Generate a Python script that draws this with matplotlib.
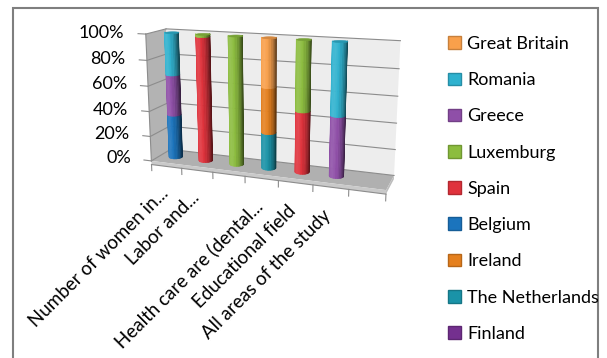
import numpy as np
import matplotlib.pyplot as plt
from matplotlib.patches import Patch, Rectangle
from matplotlib.colors import to_rgb
from mpl_toolkits.mplot3d import proj3d
from mpl_toolkits.mplot3d.art3d import Poly3DCollection

plt.rcParams['font.family'] = ['Lato', 'DejaVu Sans']

categories = ['Number of women in...', 'Labor and...', '', 'Health care are (dental...',
              'Educational field', 'All areas of the study']
# stacking order bottom -> top (the legend lists it reversed)
countries = ['Finland', 'The Netherlands', 'Ireland', 'Belgium', 'Spain',
             'Luxemburg', 'Greece', 'Romania', 'Great Britain']
finland       = [0, 0, 0, 0, 0, 0]
netherlands   = [0, 0, 0, 28, 0, 0]
ireland       = [0, 0, 0, 35, 0, 0]
belgium       = [35, 0, 0, 0, 0, 0]
spain         = [0, 98, 0, 0, 47, 0]
luxemburg     = [0, 2, 100, 0, 53, 0]
greece        = [32, 0, 0, 0, 0, 46]
romania       = [33, 0, 0, 0, 0, 54]
great_britain = [0, 0, 0, 37, 0, 0]
series = [finland, netherlands, ireland, belgium, spain, luxemburg, greece, romania, great_britain]
colors = ['#74308f', '#1a93a8', '#e5801e', '#1b74bd', '#e0323c',
          '#8cbd3f', '#8f4fa8', '#2fb2cf', '#f9a04b']
pct_ticks = [0, 20, 40, 60, 80, 100]

# box geometry
x0, x1 = -0.5, 6.5
y0, y1 = -0.6, 0.6
ft = 3
r = 0.2

fig = plt.figure(figsize=(6.07, 3.58), dpi=100)
ax = fig.add_axes([0.045, 0.19, 0.78, 1.0], projection='3d')
ax.set_proj_type('persp', focal_length=0.35)
ax.view_init(elev=14, azim=-70)
ax.set_xlim(x0, x1)
ax.set_ylim(y0, y1)
ax.set_zlim(-ft, 100)
ax.set_box_aspect((7, 1.2, 3.9), zoom=0.78)
ax.set_axis_off()
ax.computed_zorder = False


def polys3d(polys, fcs, zo, ecs='none', lw=0):
    pc = Poly3DCollection(polys, facecolors=fcs, edgecolors=ecs, linewidths=lw, zorder=zo)
    ax.add_collection3d(pc)


polys3d([[(x0, y1, 0), (x1, y1, 0), (x1, y1, 100), (x0, y1, 100)]], '#ededed', 0)
polys3d([[(x0, y0, 0), (x0, y1, 0), (x0, y1, 100), (x0, y0, 100)]], '#b3b3b3', 0)
polys3d([[(x0, y0, 0), (x1, y0, 0), (x1, y1, 0), (x0, y1, 0)]], '#b0b0b0', 1)
polys3d([[(x0, y0, -ft), (x1, y0, -ft), (x1, y0, 0), (x0, y0, 0)]], '#c9c9c9', 1)
polys3d([[(x1, y0, -ft), (x1, y1, -ft), (x1, y1, 0), (x1, y0, 0)]], '#bdbdbd', 1)

for t in pct_ticks:
    ax.plot([x0, x1], [y1, y1], [t, t], color='#8c8c8c', lw=0.8, zorder=2)
    ax.plot([x0, x0], [y0, y1], [t, t], color='#8c8c8c', lw=0.8, zorder=2)
    ax.plot([x0 - 0.25, x0], [y0, y0], [t, t], color='#8c8c8c', lw=0.8, zorder=2)
ax.plot([x0, x0], [y0, y0], [0, 100], color='#8c8c8c', lw=0.8, zorder=2)
ax.plot([x0, x1], [y0, y0], [-ft, -ft], color='#8c8c8c', lw=0.8, zorder=2)
for k in range(8):
    ax.plot([x0 + k] * 2, [y0, y0], [-ft, -ft - 5], color='#8c8c8c', lw=0.8, zorder=2)

# only the half of each cylinder that faces the camera, in a few wide strips
th = np.deg2rad(np.linspace(-165, 25, 15))
light = np.deg2rad(-115)
shade = 0.6 + 0.5 * np.clip(np.cos(th - light), -0.4, 1)
th_cap = np.linspace(0, 2 * np.pi, 41)


def tint(c, s):
    c = np.array(to_rgb(c))
    if s <= 1:
        return c * s
    return np.clip(c + (1 - c) * (s - 1), 0, 1)


for i in range(len(categories)):
    base = 0
    top_k = max(k for k in range(len(series)) if series[k][i] > 0)
    for k, vals in enumerate(series):
        v = vals[i]
        if v <= 0:
            continue
        cx = i + r * np.cos(th)
        cy = r * np.sin(th)
        sides = [[(cx[j], cy[j], base), (cx[j + 1], cy[j + 1], base),
                  (cx[j + 1], cy[j + 1], base + v), (cx[j], cy[j], base + v)]
                 for j in range(len(th) - 1)]
        cols = [tint(colors[k], (shade[j] + shade[j + 1]) / 2) for j in range(len(th) - 1)]
        polys3d(sides, cols, 10 + 20 * i + k, ecs=cols, lw=0.5)
        base += v
        if k == top_k:
            cap = [list(zip(i + r * np.cos(th_cap), r * np.sin(th_cap), [base] * len(th_cap)))]
            cc = tint(colors[k], 0.85)
            polys3d(cap, [cc], 10 + 20 * i + 15, ecs=[cc], lw=0.4)

fig.canvas.draw()
M = ax.get_proj()
for t in pct_ticks:
    px, py, _ = proj3d.proj_transform(x0 - 0.7, y0, t, M)
    ax.text2D(px, py, f'{t}%', transform=ax.transData, ha='right', va='center', fontsize=13)
for i, lab in enumerate(categories):
    px, py, _ = proj3d.proj_transform(i - 0.05, y0, -ft - 20, M)
    ax.text2D(px, py, lab, transform=ax.transData, ha='right', va='center',
              rotation=45, rotation_mode='anchor', fontsize=13.5)

handles = [Patch(facecolor=c, edgecolor=tint(c, 0.8)) for c in colors[::-1]]
fig.legend(handles, countries[::-1], loc='upper left', bbox_to_anchor=(448 / 607, 1 - 36 / 358),
           frameon=False, fontsize=13, handlelength=0.7, handleheight=0.7,
           handletextpad=0.35, labelspacing=1.12, borderaxespad=0, borderpad=0)

fig.patches.append(Rectangle((13 / 607, -0.05), 585 / 607, 1.05 - 8 / 358, transform=fig.transFigure,
                             fill=False, edgecolor='#7f7f7f', lw=1.5))

fig.savefig('out.png', dpi=100)
